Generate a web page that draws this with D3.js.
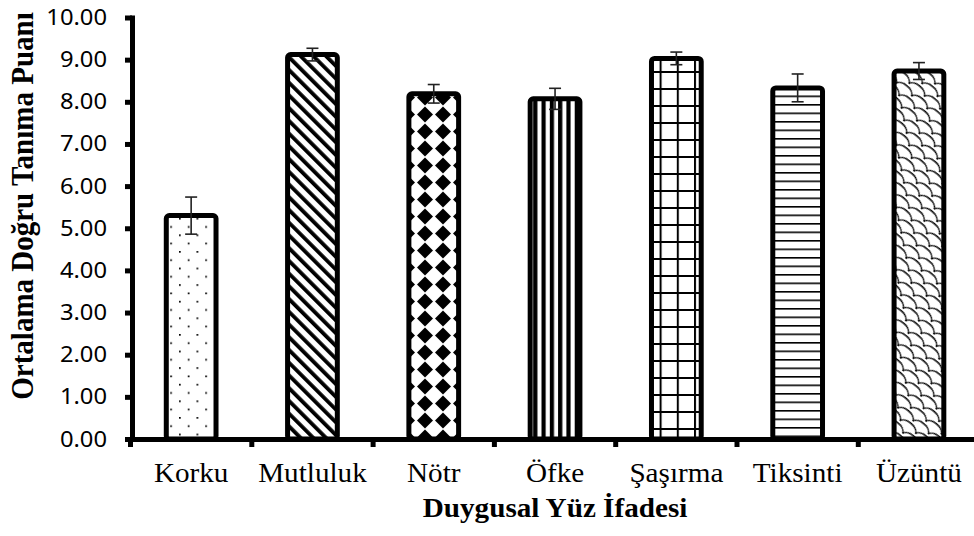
<!DOCTYPE html>
<html><head><meta charset="utf-8">
<script src="https://cdn.jsdelivr.net/npm/d3@7"></script>
<style>body{margin:0;background:#fff}</style>
</head><body><svg id="c" width="974" height="536"></svg>
<script>
const categories = ["Korku","Mutluluk","Nötr","Öfke","Şaşırma","Tiksinti","Üzüntü"];
const means = [5.30, 9.12, 8.19, 8.07, 9.03, 8.33, 8.73];
const errors = [0.44, 0.15, 0.22, 0.25, 0.15, 0.33, 0.20];
const yTicks = [0,1,2,3,4,5,6,7,8,9,10];
const patternIds = ["p-dots","p-diag","p-diamond","p-vstripe","p-grid","p-hline","p-scale"];
const yTitle = "Ortalama Doğru Tanıma Puanı";
const xTitle = "Duygusal Yüz İfadesi";

const SX = 1.08;
const svg = d3.select("#c");
svg.append("rect").attr("width",974).attr("height",536).attr("fill","#fff");
const defs = svg.append("defs");

// patterns
let p = defs.append("pattern").attr("id","p-dots").attr("patternUnits","userSpaceOnUse")
  .attr("width",17.5).attr("height",16.6).attr("x",4).attr("y",2);
p.append("rect").attr("width",17.5).attr("height",16.6).attr("fill","#fff");
p.append("rect").attr("x",0).attr("y",0).attr("width",1.7).attr("height",1.7).attr("fill","#000");
p.append("rect").attr("x",8.75).attr("y",8.3).attr("width",1.7).attr("height",1.7).attr("fill","#000");

p = defs.append("pattern").attr("id","p-diag").attr("patternUnits","userSpaceOnUse")
  .attr("width",9).attr("height",9).attr("patternTransform","rotate(-45)");
p.append("rect").attr("width",9).attr("height",9).attr("fill","#fff");
p.append("rect").attr("width",3.8).attr("height",9).attr("fill","#000");

p = defs.append("pattern").attr("id","p-diamond").attr("patternUnits","userSpaceOnUse")
  .attr("width",18).attr("height",17).attr("x",2).attr("y",4);
p.append("rect").attr("width",18).attr("height",17).attr("fill","#fff");
p.append("path").attr("d","M9,0.5 L17,8.5 L9,16.5 L1,8.5 Z").attr("fill","#000");

p = defs.append("pattern").attr("id","p-vstripe").attr("patternUnits","userSpaceOnUse")
  .attr("width",8.3).attr("height",10).attr("x",2);
p.append("rect").attr("width",8.3).attr("height",10).attr("fill","#fff");
p.append("rect").attr("width",4.2).attr("height",10).attr("fill","#000");

p = defs.append("pattern").attr("id","p-grid").attr("patternUnits","userSpaceOnUse")
  .attr("width",17.2).attr("height",17).attr("x",6).attr("y",3);
p.append("rect").attr("width",17.2).attr("height",17).attr("fill","#fff");
p.append("rect").attr("width",2).attr("height",17).attr("fill","#000");
p.append("rect").attr("width",17.2).attr("height",2).attr("fill","#000");

p = defs.append("pattern").attr("id","p-hline").attr("patternUnits","userSpaceOnUse")
  .attr("width",10).attr("height",8.5).attr("y",2);
p.append("rect").attr("width",10).attr("height",8.5).attr("fill","#fff");
p.append("rect").attr("width",10).attr("height",1.6).attr("fill","#000");

p = defs.append("pattern").attr("id","p-scale").attr("patternUnits","userSpaceOnUse")
  .attr("width",20).attr("height",16).attr("patternTransform","rotate(40)");
p.append("rect").attr("width",20).attr("height",16).attr("fill","#fff");
p.append("path").attr("d","M0,16 C1,9 19,9 20,16 M-10,8 C-9,1 9,1 10,8 M10,8 C11,1 29,1 30,8")
  .attr("fill","none").attr("stroke","#000").attr("stroke-width",1.3);

// scales
const y = d3.scaleLinear().domain([0,10]).range([439,17.5]);
const x = d3.scaleBand().domain(categories).range([130.5,979.6]).padding(0);
const barW = x.bandwidth()*0.41;

// bars
const data = categories.map((c,i)=>({c, m:means[i], e:errors[i], pat:patternIds[i]}));
svg.append("g").selectAll("rect").data(data).join("rect")
  .attr("x", d=>x(d.c)+(x.bandwidth()-barW)/2)
  .attr("y", d=>y(d.m))
  .attr("width", barW)
  .attr("height", d=>y(0)-y(d.m))
  .attr("rx",3).attr("ry",3)
  .attr("fill", d=>`url(#${d.pat})`)
  .attr("stroke","#000").attr("stroke-width",5);

// error bars
const eg = svg.append("g").attr("stroke","#222").attr("stroke-width",1.6);
data.forEach(d=>{
  const cx = x(d.c)+x.bandwidth()/2;
  eg.append("line").attr("x1",cx).attr("x2",cx).attr("y1",y(d.m+d.e)).attr("y2",y(d.m-d.e));
  eg.append("line").attr("x1",cx-6).attr("x2",cx+6).attr("y1",y(d.m+d.e)).attr("y2",y(d.m+d.e));
  eg.append("line").attr("x1",cx-6).attr("x2",cx+6).attr("y1",y(d.m-d.e)).attr("y2",y(d.m-d.e));
});

// y axis
const gY = svg.append("g").attr("transform","translate(132,0)")
  .call(d3.axisLeft(y).tickValues(yTicks).tickFormat(d3.format(".2f")).tickSizeInner(7).tickSizeOuter(0).tickPadding(18));
gY.select(".domain").attr("stroke","#000").attr("stroke-width",5).attr("stroke-linecap","square");
gY.selectAll(".tick line").attr("stroke","#000").attr("stroke-width",5);
gY.selectAll(".tick text").attr("x",0).attr("transform",`translate(-25,0) scale(${SX},1)`)
  .attr("font-family","'Noto Sans', 'Open Sans', sans-serif").attr("font-size",22).attr("fill","#000");

// x axis
const gX = svg.append("g").attr("transform",`translate(0,${y(0)})`)
  .call(d3.axisBottom(x).tickSize(0).tickSizeOuter(0).tickPadding(0));
gX.select(".domain").attr("stroke","#000").attr("stroke-width",5);
gX.selectAll(".tick text").attr("y",0).attr("dy",0).attr("transform",`translate(0,43) scale(${SX},1)`)
  .attr("font-family","'Liberation Serif', 'Times New Roman', serif").attr("font-size",27).attr("fill","#000");
const bounds = categories.map(c=>x(c)).concat([x.range()[1]]);
gX.append("g").selectAll("line").data(bounds).join("line")
  .attr("x1",d=>d).attr("x2",d=>d).attr("y1",0).attr("y2",8)
  .attr("stroke","#000").attr("stroke-width",5);

// titles
svg.append("text").text(yTitle)
  .attr("transform",`translate(33,206) scale(${SX},1) rotate(-90)`)
  .attr("text-anchor","middle")
  .attr("font-family","'Liberation Serif', 'Times New Roman', serif").attr("font-weight","bold")
  .attr("font-size",29).attr("fill","#000");
svg.append("text").text(xTitle)
  .attr("transform",`translate(${(x.range()[0]+x.range()[1])/2},517) scale(${SX},1)`)
  .attr("text-anchor","middle")
  .attr("font-family","'Liberation Serif', 'Times New Roman', serif").attr("font-weight","bold")
  .attr("font-size",27).attr("fill","#000");
</script>
</body></html>
